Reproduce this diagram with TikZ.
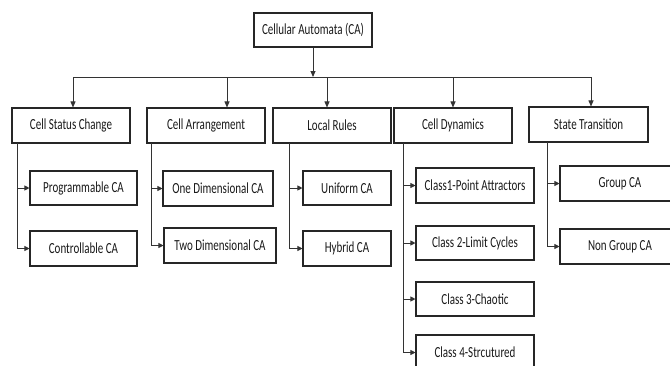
\documentclass[tikz,border=0pt]{standalone}
\usepackage{fontspec}
\usepackage{graphicx}
\setmainfont{Carlito}
\usetikzlibrary{arrows.meta}
\newcommand\tallt[1]{\scalebox{1}[1.4]{#1}}
\tikzset{
  box/.style={draw=black!85, line width=1.1pt, inner sep=0pt, text=black!90,
    font=\fontsize{11}{13}\selectfont},
  conn/.style={draw=black!80, line width=0.9pt},
  darr/.style={conn, -{Triangle[length=6pt,width=5pt]}},
  sarr/.style={conn, -{Triangle[length=5pt,width=5pt]}}
}
\begin{document}
\begin{tikzpicture}[x=1pt,y=-1pt]
\useasboundingbox (0,0) rectangle (670,365);
% root
\node[box, minimum width=118pt, minimum height=34pt] (root) at (313,30) {\tallt{Cellular Automata (CA)}};
% level 1
\node[box, minimum width=118pt, minimum height=35pt] (csc) at (71,125.5) {\tallt{Cell Status Change}};
\node[box, minimum width=118pt, minimum height=35pt] (ca) at (206,125.5) {\tallt{Cell Arrangement}};
\node[box, minimum width=118pt, minimum height=35pt] (lr) at (332,125.5) {\tallt{Local Rules}};
\node[box, minimum width=118pt, minimum height=35pt] (cd) at (453,125.5) {\tallt{Cell Dynamics}};
\node[box, minimum width=119pt, minimum height=35pt] (st) at (588.5,124.5) {\tallt{State Transition}};
% level 2
\node[box, minimum width=107pt, minimum height=34pt] (prog) at (83.5,188) {\tallt{Programmable CA}};
\node[box, minimum width=107pt, minimum height=35pt] (ctrl) at (83.5,248.5) {\tallt{Controllable CA}};
\node[box, minimum width=110pt, minimum height=35pt] (one) at (218,188.5) {\tallt{One Dimensional CA}};
\node[box, minimum width=112pt, minimum height=35pt] (two) at (220,245.5) {\tallt{Two Dimensional CA}};
\node[box, minimum width=88pt, minimum height=34pt] (uni) at (347,188) {\tallt{Uniform CA}};
\node[box, minimum width=88pt, minimum height=35pt] (hyb) at (347,248.5) {\tallt{Hybrid CA}};
\node[box, minimum width=118pt, minimum height=35pt] (c1) at (475,185.5) {\tallt{Class1-Point Attractors}};
\node[box, minimum width=118pt, minimum height=34pt] (c2) at (475,243) {\tallt{Class 2-Limit Cycles}};
\node[box, minimum width=118pt, minimum height=34pt] (c3) at (475,299) {\tallt{Class 3-Chaotic}};
\node[box, minimum width=118pt, minimum height=35pt] (c4) at (475,352.5) {\tallt{Class 4-Strcutured}};
\node[box, minimum width=120pt, minimum height=35pt] (grp) at (620,183.5) {\tallt{Group CA}};
\node[box, minimum width=120pt, minimum height=35pt] (ngrp) at (620,246.5) {\tallt{Non Group CA}};
% bus
\coordinate (bus) at (313,77);
\coordinate (b1) at (73,77);
\coordinate (b2) at (227,77);
\coordinate (b3) at (327,77);
\coordinate (b4) at (453,77);
\coordinate (b5) at (591,77);
\draw[darr] (root.south) -- (bus);
\draw[conn] (b1) -- (b5);
\draw[darr] (b1) -- (b1 |- csc.north);
\draw[darr] (b2) -- (b2 |- ca.north);
\draw[darr] (b3) -- (b3 |- lr.north);
\draw[darr] (b4) -- (b4 |- cd.north);
\draw[darr] (b5) -- (b5 |- st.north);
% trunks
\coordinate (t1) at (17,143);
\coordinate (t2) at (151,143);
\coordinate (t3) at (289,143);
\coordinate (t4) at (403,143);
\coordinate (t5) at (547,142);
\draw[sarr] (t1) |- (prog.west);
\draw[sarr] (t1) |- (ctrl.west);
\draw[sarr] (t2) |- (one.west);
\draw[sarr] (t2) |- (two.west);
\draw[sarr] (t3) |- (uni.west);
\draw[sarr] (t3) |- (hyb.west);
\draw[sarr] (t4) |- (c1.west);
\draw[sarr] (t4) |- (c2.west);
\draw[sarr] (t4) |- (c3.west);
\draw[sarr] (t4) |- (c4.west);
\draw[sarr] (t5) |- (grp.west);
\draw[sarr] (t5) |- (ngrp.west);
\end{tikzpicture}
\end{document}
